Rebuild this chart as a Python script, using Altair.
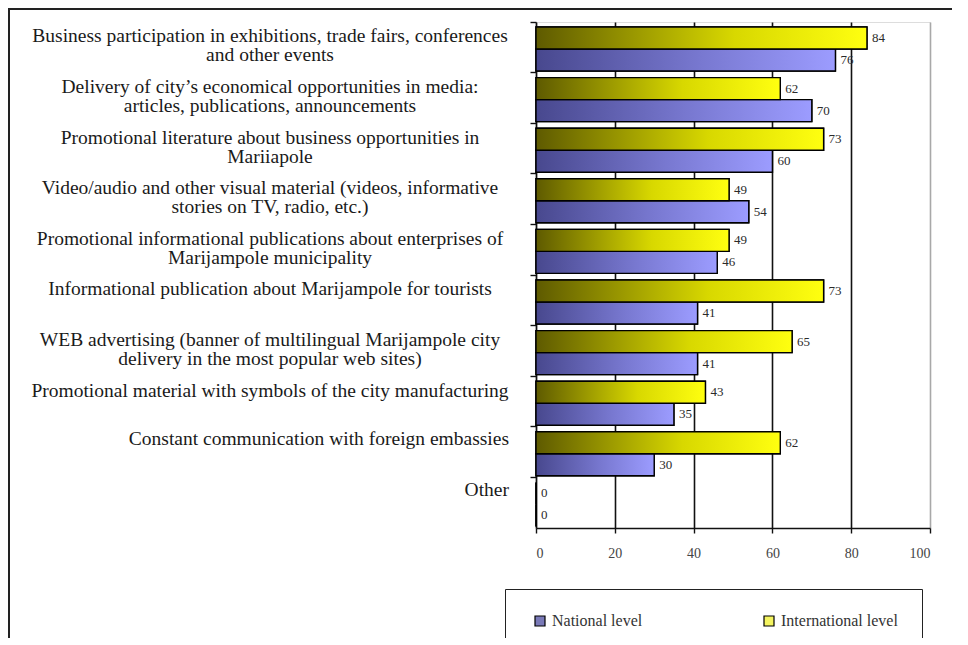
import altair as alt
import pandas as pd

categories = [
    "Business participation in exhibitions, trade fairs, conferences\nand other events",
    "Delivery of city\u2019s economical opportunities in media:\narticles, publications, announcements",
    "Promotional literature about business opportunities in\nMariiapole",
    "Video/audio and other visual material (videos, informative\nstories on TV, radio, etc.)",
    "Promotional informational publications about enterprises of\nMarijampole municipality",
    "Informational publication about Marijampole for tourists",
    "WEB advertising (banner of multilingual Marijampole city\ndelivery in the most popular web sites)",
    "Promotional material with symbols of the city manufacturing",
    "Constant communication with foreign embassies",
    "Other",
]
international = [84, 62, 73, 49, 49, 73, 65, 43, 62, 0]
national = [76, 70, 60, 54, 46, 41, 41, 35, 30, 0]
series = ["National level", "International level"]
x_ticks = [0, 20, 40, 60, 80, 100]
right_aligned = ["Constant communication with foreign embassies", "Other"]

rows = []
for c, i, n in zip(categories, international, national):
    rows.append({"category": c, "series": "International level", "value": i})
    rows.append({"category": c, "series": "National level", "value": n})
df = pd.DataFrame(rows)
cat_df = pd.DataFrame({"category": categories})

FONT = "Liberation Serif"

y_scale = alt.Scale(domain=categories, paddingInner=0, paddingOuter=0)
yoff_scale = alt.Scale(domain=["International level", "National level"],
                       paddingInner=0, paddingOuter=0.15, align=0.76)

x_enc = alt.X(
    "value:Q",
    scale=alt.Scale(domain=[0, 100], nice=False),
    axis=alt.Axis(
        values=x_ticks, title=None, grid=True,
        gridColor=alt.condition("datum.value > 0 && datum.value < 100",
                                alt.value("#111111"), alt.value("#a8a8a8")),
        gridWidth=1.6,
        domainColor="#111111", domainWidth=1.6,
        tickColor="#111111", tickWidth=1.4, tickSize=5,
        labelFont=FONT, labelFontSize=14, labelColor="#444444",
        labelPadding=13,
    ),
)
y_enc = alt.Y(
    "category:N", scale=y_scale, sort=categories,
    axis=alt.Axis(labels=False, title=None, ticks=True, tickSize=6,
                  tickColor="#111111", tickWidth=1.4, bandPosition=0,
                  domainColor="#111111", domainWidth=1.6),
)
yoff_enc = alt.YOffset("series:N", scale=yoff_scale)

blue_grad = alt.LinearGradient(
    gradient="linear", x1=0, x2=1, y1=0, y2=0,
    stops=[alt.GradientStop(color="#48488e", offset=0),
           alt.GradientStop(color="#7878d0", offset=0.55),
           alt.GradientStop(color="#9c9cff", offset=1)],
)
yellow_grad = alt.LinearGradient(
    gradient="linear", x1=0, x2=1, y1=0, y2=0,
    stops=[alt.GradientStop(color="#5e5a00", offset=0),
           alt.GradientStop(color="#d8d800", offset=0.6),
           alt.GradientStop(color="#ffff10", offset=1)],
)

base = alt.Chart(df)

legend_bars = base.mark_bar(stroke="black", strokeWidth=1.4).encode(
    x=x_enc, y=y_enc, yOffset=yoff_enc,
    color=alt.Color(
        "series:N",
        scale=alt.Scale(domain=series, range=["#7a7ab8", "#f4f460"]),
        legend=alt.Legend(
            title=None, orient="none", legendX=-31, legendY=567,
            direction="horizontal", symbolType="square", symbolSize=100,
            symbolStrokeColor="black", symbolStrokeWidth=1.2,
            labelFont=FONT, labelFontSize=16, labelColor="#333333",
            columnPadding=115, padding=24, symbolOffset=3,
            strokeColor="#222222", fillColor="white",
        ),
    ),
)

nat_bars = base.transform_filter(alt.datum.series == "National level").mark_bar(
    fill=blue_grad, stroke="black", strokeWidth=1.4
).encode(x=x_enc, y=y_enc, yOffset=yoff_enc)

int_bars = base.transform_filter(alt.datum.series == "International level").mark_bar(
    fill=yellow_grad, stroke="black", strokeWidth=1.4
).encode(x=x_enc, y=y_enc, yOffset=yoff_enc)

value_text = base.mark_text(
    align="left", baseline="middle", dx=5, font=FONT, fontSize=13, color="#2a2a2a"
).encode(x=x_enc, y=y_enc, yOffset=yoff_enc, text=alt.Text("value:Q"))

cat_center = alt.Chart(cat_df).transform_filter(
    ~alt.FieldOneOfPredicate(field="category", oneOf=right_aligned)
).mark_text(
    align="center", baseline="middle", dy=-11, lineBreak="\n", lineHeight=19,
    font=FONT, fontSize=19.5, color="#1a1a1a"
).encode(y=y_enc, x=alt.value(-266), text="category:N")

cat_right = alt.Chart(cat_df).transform_filter(
    alt.FieldOneOfPredicate(field="category", oneOf=right_aligned)
).mark_text(
    align="right", baseline="middle", dy=-13, lineBreak="\n", lineHeight=19,
    font=FONT, fontSize=19.5, color="#1a1a1a"
).encode(y=y_enc, x=alt.value(-27), text="category:N")

frame = alt.Chart(pd.DataFrame({"k": [0]})).mark_rect(
    fillOpacity=0, stroke="#222222", strokeWidth=2
).encode(x=alt.value(-527), x2=alt.value(424), y=alt.value(-13), y2=alt.value(700))

chart = alt.layer(
    legend_bars, nat_bars, int_bars, value_text, cat_center, cat_right, frame
).properties(
    width=394, height=506,
    autosize=alt.AutoSizeParams(type="none"),
    padding={"left": 528, "top": 14, "right": 22, "bottom": 110},
).configure_view(
    stroke="#a8a8a8", strokeWidth=1.5
).configure(background="white")

chart.save("out.html", embed_options={"renderer": "svg", "actions": False})
